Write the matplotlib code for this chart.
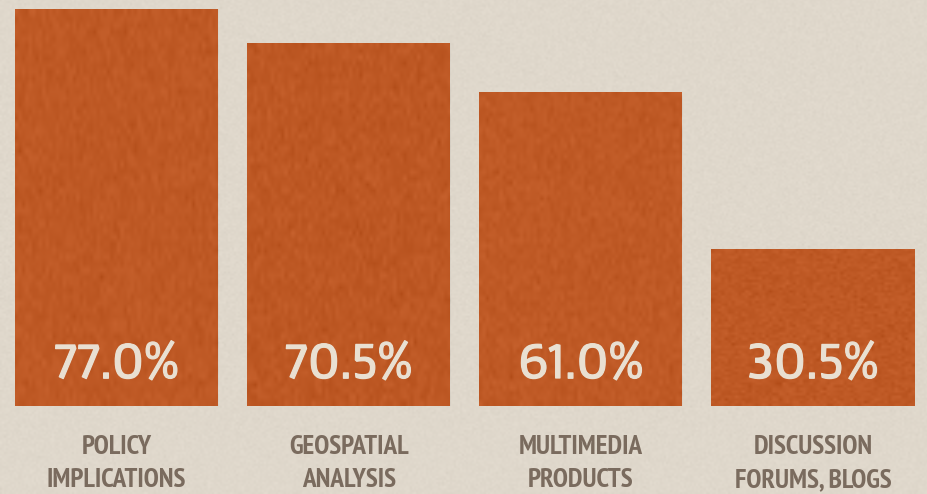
import numpy as np
import matplotlib
matplotlib.use("Agg")
import matplotlib.pyplot as plt
import matplotlib.patheffects as pe

categories = ["POLICY\nIMPLICATIONS", "GEOSPATIAL\nANALYSIS",
              "MULTIMEDIA\nPRODUCTS", "DISCUSSION\nFORUMS, BLOGS"]
values = [77.0, 70.5, 61.0, 30.5]

bg = "#e4dccf"
bar_c = "#c2531a"
val_c = "#e9e0d2"
lab_c = "#7a6b5e"

W, H = 928, 494
fig = plt.figure(figsize=(W / 100, H / 100), dpi=100)
fig.patch.set_facecolor(bg)

# paper-like texture behind everything
rng = np.random.default_rng(3)
tex = rng.normal(0, 1, (247, 464))
bgax = fig.add_axes([0, 0, 1, 1], zorder=0)
bgax.imshow(tex, cmap="Greys", alpha=0.06, aspect="auto", interpolation="bilinear")
bgax.axis("off")

ax = fig.add_axes([0, 88 / H, 1, 406 / H], zorder=1)
ax.patch.set_alpha(0)
x = np.arange(len(values))
bars = ax.bar(x, values, width=0.875, color=bar_c)
ax.axis("off")

for b in bars:
    t = rng.normal(0, 1, (60, 60))
    im = ax.imshow(t, cmap="Greys", alpha=0.09, interpolation="bilinear",
                   extent=[b.get_x(), b.get_x() + b.get_width(), 0, b.get_height()],
                   aspect="auto", zorder=3)
    im.set_clip_path(b)
ax.set_xlim(-0.502, 3.495)
ax.set_ylim(0, 78.75)

for xi, v in zip(x, values):
    ax.text(xi, 5.43, f"{v:.1f}%", ha="center", va="baseline", fontsize=37,
            color=val_c, family=["Mako", "Lato"], zorder=4,
            path_effects=[pe.withStroke(linewidth=0.9, foreground=val_c)])

for xi, lab in zip(x, categories):
    cx = (116.5 + xi * 232.2) / W
    for line, base in zip(lab.split("\n"), [454, 487]):
        fig.text(cx, 1 - base / H, line, ha="center", va="baseline",
                 fontsize=19.5, color=lab_c,
                 family=["PT Sans Narrow", "DejaVu Sans"], fontweight="bold")

fig.savefig("out.png", dpi=100, facecolor=bg)
